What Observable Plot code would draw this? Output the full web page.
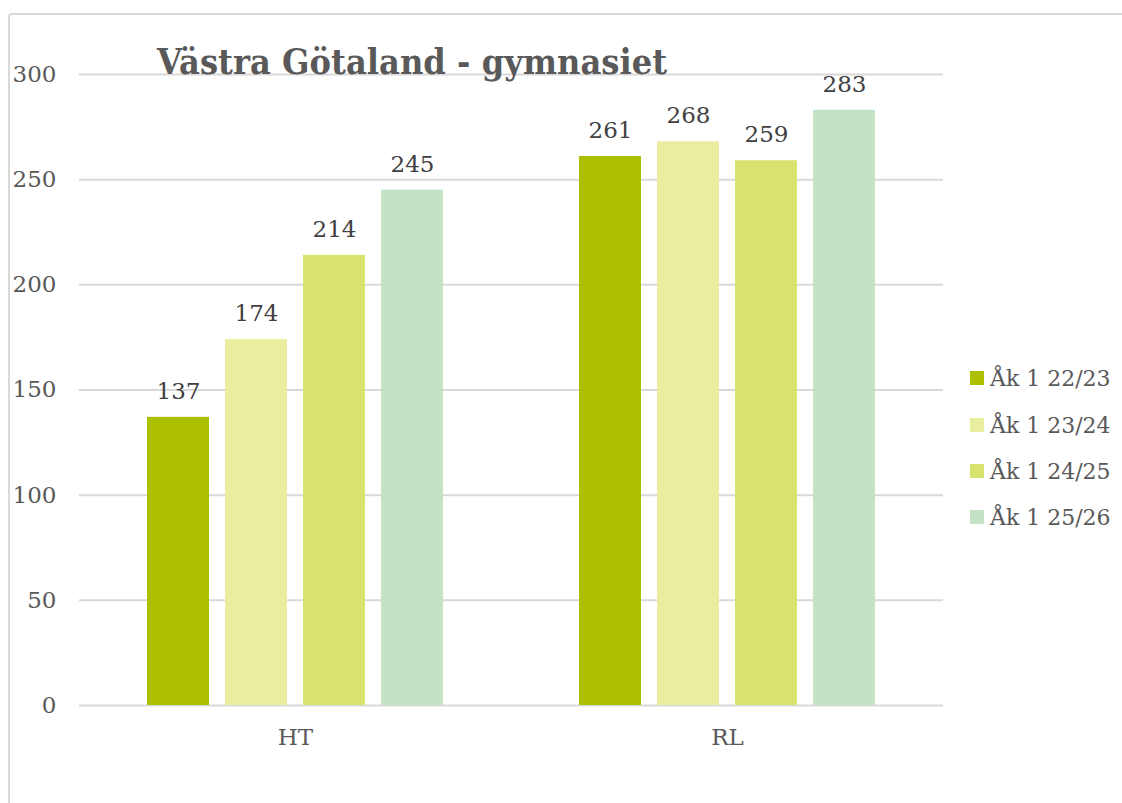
<!DOCTYPE html>
<html>
<head>
<meta charset="utf-8">
<script src="https://cdn.jsdelivr.net/npm/d3@7"></script>
<script src="https://cdn.jsdelivr.net/npm/@observablehq/plot@0.6"></script>
<style>
  html, body { margin: 0; padding: 0; background: #fff; overflow: hidden; }
  #wrap { position: relative; width: 1122px; height: 803px; overflow: hidden; }
  #frame { position: absolute; left: 8px; top: 13px; width: 1300px; height: 1000px;
           border: 2px solid #d9d9d9; border-radius: 4px; box-sizing: border-box; }
  #chart { position: absolute; left: 0; top: 0; }
  #title { position: absolute; left: 157px; top: 43px; font: bold 36px "DejaVu Serif"; line-height: 1;
           color: #595959; white-space: nowrap; transform: scaleX(0.895); transform-origin: left center; }
  #legend { position: absolute; left: 970px; top: 0; font: 22px "DejaVu Serif"; color: #595959; }
  .item { position: absolute; left: 0; display: flex; align-items: center; white-space: nowrap; height: 30px; }
  .sw { width: 14px; height: 14px; margin-right: 6px; }
</style>
</head>
<body>
<div id="wrap">
  <div id="frame"></div>
  <div id="chart"></div>
  <div id="title">Västra Götaland - gymnasiet</div>
  <div id="legend"></div>
</div>
<script>
const categories = ["HT", "RL"];
const series = ["Åk 1 22/23", "Åk 1 23/24", "Åk 1 24/25", "Åk 1 25/26"];
const valuesHT = [137, 174, 214, 245];
const valuesRL = [261, 268, 259, 283];
const yTicks = [0, 50, 100, 150, 200, 250, 300];
const colors = ["#acbf00", "#e8eda0", "#d8e26e", "#c4e2c6"];

const rows = [];
categories.forEach((c, i) => {
  const vals = i === 0 ? valuesHT : valuesRL;
  series.forEach((s, j) => rows.push({cat: c, series: s, value: vals[j]}));
});

const chart = Plot.plot({
  width: 1122,
  height: 803,
  marginLeft: 78,
  marginRight: 179,
  marginTop: 74,
  marginBottom: 98,
  style: {fontFamily: "DejaVu Serif", fontSize: "23px", color: "#595959", background: "transparent", overflow: "visible"},
  fx: {domain: categories, padding: 0, axis: "bottom", tickSize: 0, tickPadding: 23, label: null},
  x: {domain: series, paddingInner: 0.21, paddingOuter: 0.853, axis: null},
  y: {domain: [0, 300], ticks: yTicks, tickSize: 0, tickPadding: 23, label: null},
  color: {domain: series, range: colors},
  marks: [
    Plot.ruleY(yTicks, {stroke: "#d9d9d9", strokeWidth: 2}),
    Plot.barY(rows, {fx: "cat", x: "series", y: "value", fill: "series"}),
    Plot.text(rows, {fx: "cat", x: "series", y: "value", text: d => String(d.value),
                     dy: -26, lineAnchor: "middle", fill: "#404040"})
  ]
});
document.getElementById("chart").appendChild(chart);

const legend = document.getElementById("legend");
const rowCenters = [378, 425, 471, 517];
series.forEach((s, i) => {
  const it = document.createElement("div");
  it.className = "item";
  it.style.top = (rowCenters[i] - 15) + "px";
  const sw = document.createElement("span");
  sw.className = "sw";
  sw.style.background = colors[i];
  const tx = document.createElement("span");
  tx.textContent = s;
  it.appendChild(sw);
  it.appendChild(tx);
  legend.appendChild(it);
});
</script>
</body>
</html>
